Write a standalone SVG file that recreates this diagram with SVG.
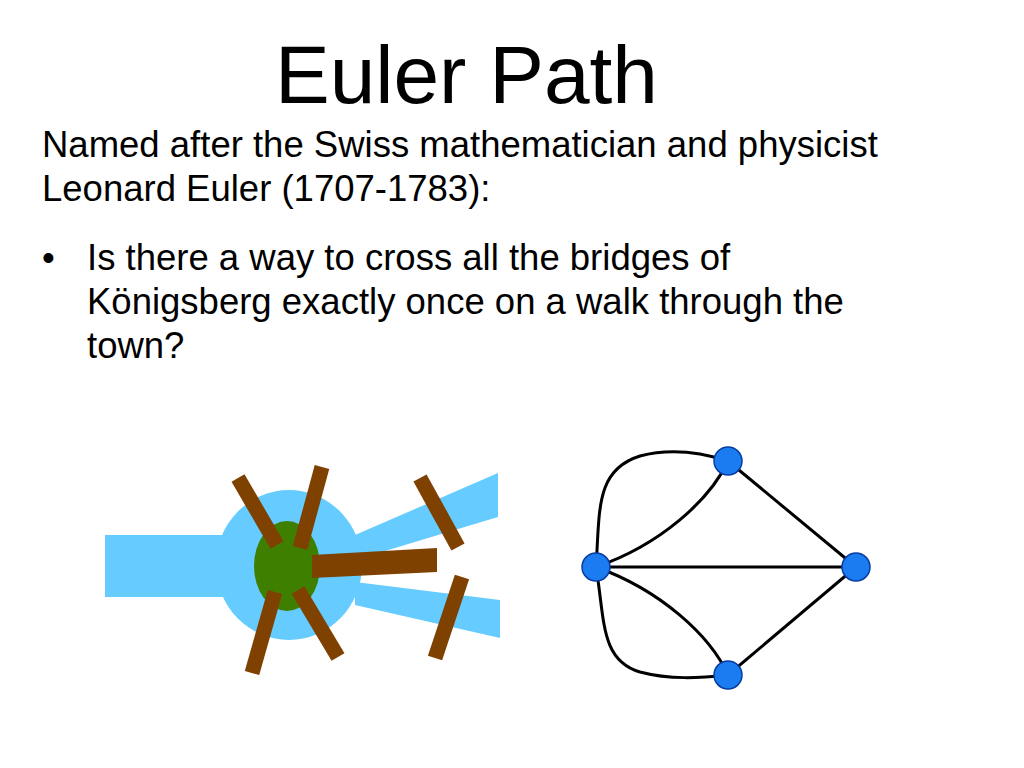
<svg xmlns="http://www.w3.org/2000/svg" width="1024" height="768" viewBox="0 0 1024 768">
<style>
text{font-family:"Liberation Sans",Arial,sans-serif;fill:#000}
.b{font-size:36.5px}
.br{stroke:#7f4100;stroke-width:15}
.e{fill:none;stroke:#000;stroke-width:3}
.n{fill:#1a7cf0;stroke:#0a3ca0;stroke-width:1.5}
</style>
<rect width="1024" height="768" fill="#fff"/>
<text x="275" y="103" font-size="82">Euler Path</text>
<text class="b" x="42" y="157">Named after the Swiss mathematician and physicist</text>
<text class="b" x="42" y="201">Leonard Euler (1707-1783):</text>
<text class="b" x="42" y="270">•</text>
<text class="b" x="87" y="270">Is there a way to cross all the bridges of</text>
<text class="b" x="87" y="314">Königsberg exactly once on a walk through the</text>
<text class="b" x="87" y="358">town?</text>
<g id="map">
<rect x="105" y="535" width="120" height="62" fill="#66ccff"/>
<polygon points="355,535 498,473 498,517 355,560" fill="#66ccff"/>
<polygon points="355,582 500,600 500,638 355,605" fill="#66ccff"/>
<ellipse cx="289" cy="565" rx="73" ry="75" fill="#66ccff"/>
<ellipse cx="287" cy="566" rx="33" ry="45" fill="#3f7f00"/>
<line class="br" x1="238" y1="478" x2="277" y2="545"/>
<line class="br" x1="322" y1="467" x2="300" y2="548"/>
<polygon points="312,555 437,548 437,572 312,578" fill="#7f4100"/>
<line class="br" x1="275" y1="592" x2="252" y2="673"/>
<line class="br" x1="298" y1="590" x2="338" y2="657"/>
<line class="br" x1="420" y1="478" x2="458" y2="547"/>
<line class="br" x1="462" y1="577" x2="435" y2="658"/>
</g>
<g id="edges">
<path class="e" d="M596,567 C600,510 595,470 640,456 C670,448 700,452 728,461"/>
<path class="e" d="M596,567 C660,545 710,500 728,461"/>
<line class="e" x1="596" y1="567" x2="856" y2="567"/>
<line class="e" x1="728" y1="461" x2="856" y2="567"/>
<line class="e" x1="728" y1="675" x2="856" y2="567"/>
<path class="e" d="M596,567 C660,590 710,635 728,675"/>
<path class="e" d="M596,567 C605,620 600,660 640,672 C670,680 700,678 728,675"/>
</g>
<g id="nodeA"><circle class="n" cx="728" cy="461" r="14"/></g>
<g id="nodeB"><circle class="n" cx="596" cy="567" r="14"/></g>
<g id="nodeC"><circle class="n" cx="856" cy="567" r="14"/></g>
<g id="nodeD"><circle class="n" cx="728" cy="675" r="14"/></g>
</svg>
